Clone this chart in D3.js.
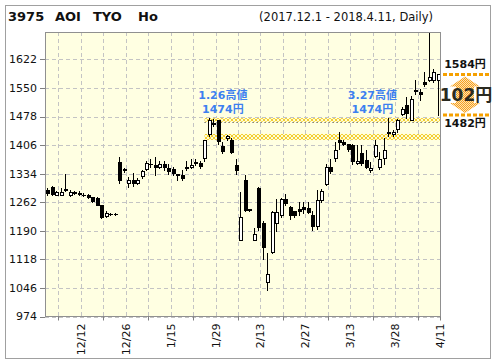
<!DOCTYPE html>
<html>
<head>
<meta charset="utf-8">
<script src="https://cdn.jsdelivr.net/npm/d3@7"></script>
<style>
body { margin: 0; background: #fff; }
text { font-family: Verdana, "DejaVu Sans", "Noto Sans CJK JP", sans-serif; }
</style>
</head>
<body>
<svg id="chart" width="496" height="364"></svg>
<script>
// Daily candles, 2017.12.1 - 2018.4.11
var dates = ["12/1","12/4","12/5","12/6","12/7","12/8","12/11","12/12","12/13","12/14",
  "12/15","12/18","12/19","12/20","12/21","12/22","12/25","12/26","12/27","12/28","12/29",
  "1/4","1/5","1/9","1/10","1/11","1/12","1/15","1/16","1/17","1/18","1/19","1/22","1/23",
  "1/24","1/25","1/26","1/29","1/30","1/31",
  "2/1","2/2","2/5","2/6","2/7","2/8","2/9","2/13","2/14","2/15","2/16","2/19","2/20",
  "2/21","2/22","2/23","2/26","2/27","2/28",
  "3/1","3/2","3/5","3/6","3/7","3/8","3/9","3/12","3/13","3/14","3/15","3/16","3/19",
  "3/20","3/22","3/23","3/26","3/27","3/28","3/29","3/30",
  "4/2","4/3","4/4","4/5","4/6","4/9","4/10","4/11"];

var open = [1292,1300,1281,1281,1293,1279,1286,1284,1281,1279,
  1274,1272,1254,1227,1233,1232,1363,1345,1311,1319,1310,
  1327,1346,1358,1356,1350,1359,1349,1346,1332,1331,1352,1352,1362,
  1360,1374,1433,1460,1468,1404,
  1425,1420,1355,1167,1317,1244,1167,1298,1209,1060,1136,1209,1229,
  1271,1251,1239,1245,1251,1247,
  1230,1201,1268,1309,1352,1374,1420,1415,1408,1405,1361,1386,1369,
  1342,1378,1350,1373,1437,1434,1447,1485,
  1508,1470,1543,1540,1565,1569,1569,1570];

var high = [1297,1302,1290,1299,1334,1294,1291,1290,1285,1282,
  1276,1274,1256,1239,1236,1235,1375,1349,1325,1336,1324,
  1343,1366,1372,1377,1365,1367,1359,1352,1334,1344,1367,1372,1370,
  1365,1420,1474,1472,1470,1413,
  1432,1425,1372,1289,1330,1246,1196,1300,1214,1133,1241,1269,1272,
  1282,1253,1241,1262,1262,1262,
  1239,1293,1296,1359,1372,1413,1439,1420,1409,1408,1405,1405,1394,
  1363,1419,1388,1425,1474,1445,1472,1503,
  1527,1529,1571,1548,1590,1698,1597,1584];

var low = [1280,1279,1279,1279,1290,1277,1283,1281,1278,1273,
  1263,1254,1221,1224,1229,1229,1310,1338,1300,1304,1307,
  1323,1342,1350,1331,1347,1342,1334,1331,1319,1317,1344,1347,1355,
  1347,1367,1430,1453,1409,1387,
  1419,1385,1334,1166,1239,1241,1166,1191,1120,1041,1135,1189,1224,
  1254,1220,1224,1229,1234,1234,
  1193,1195,1262,1306,1335,1367,1397,1405,1392,1359,1359,1355,1347,
  1339,1375,1346,1359,1430,1430,1440,1481,
  1475,1468,1534,1520,1556,1567,1564,1482];

var close = [1284,1282,1287,1287,1295,1287,1287,1283,1280,1275,
  1266,1256,1224,1234,1232,1233,1317,1342,1319,1310,1319,
  1340,1360,1359,1352,1359,1350,1340,1336,1331,1323,1349,1357,1363,
  1353,1418,1470,1462,1416,1392,
  1428,1388,1344,1226,1243,1243,1181,1199,1149,1082,1237,1237,1270,
  1260,1230,1229,1241,1244,1237,
  1203,1268,1290,1350,1340,1393,1413,1409,1397,1366,1367,1360,1352,
  1349,1405,1372,1393,1438,1439,1468,1497,
  1487,1523,1544,1534,1561,1577,1590,1584];

var yTicks = [974,1046,1118,1190,1262,1334,1406,1478,1550,1622];
var xLabels = ["12/12","12/26","1/15","1/29","2/13","2/27","3/13","3/28","4/11"];

// highlighted price zones (upper = 1474 high level)
var zoneUpper = [1474, 1465];
var zoneLower = [1434, 1419];
var highNotes = [{date: "1/26", label: "1.26高値", price: 1474, dx: 14},
                 {date: "3/27", label: "3.27高値", price: 1474, dx: -16}];
var rangeTop = 1584, rangeBottom = 1482;

var svg = d3.select("#chart");
var plotLeft = 45, plotRight = 440, plotTop = 32, plotBottom = 316.5;

var x = d3.scaleLinear().domain([0, dates.length]).range([plotLeft, plotRight]);
var y = d3.scaleLinear().domain([974, 1691]).range([plotBottom, plotTop]);

var defs = svg.append("defs");
defs.append("clipPath").attr("id", "plotClip")
  .append("rect").attr("x", plotLeft).attr("y", plotTop)
  .attr("width", plotRight - plotLeft).attr("height", plotBottom - plotTop);

// yellow hatch for the zones
var hatch = defs.append("pattern").attr("id", "hatch").attr("patternUnits", "userSpaceOnUse")
  .attr("width", 4).attr("height", 4);
hatch.append("rect").attr("width", 4).attr("height", 4).attr("fill", "#fffbd8");
hatch.append("path").attr("d", "M0,0L4,4M4,0L0,4").attr("stroke", "#f3d030").attr("stroke-width", 1);

var dots = defs.append("pattern").attr("id", "orangeDots").attr("patternUnits", "userSpaceOnUse")
  .attr("width", 2).attr("height", 2);
dots.append("rect").attr("width", 2).attr("height", 2).attr("fill", "#ffe2b0");
dots.append("rect").attr("width", 1).attr("height", 1).attr("fill", "#f5a020");
dots.append("rect").attr("x", 1).attr("y", 1).attr("width", 1).attr("height", 1).attr("fill", "#f5a020");

// outer frame
svg.append("rect")
  .attr("x", 5.5).attr("y", 5.5).attr("width", 485).attr("height", 353)
  .attr("fill", "#fff").attr("stroke", "#a0a0a0");

// title
var title = svg.append("text").attr("y", 21).attr("font-size", "13px").attr("font-weight", "bold").attr("fill", "#111");
title.append("tspan").attr("x", 8).text("3975");
title.append("tspan").attr("x", 55).text("AOI");
title.append("tspan").attr("x", 93).text("TYO");
title.append("tspan").attr("x", 138).text("Ho");

svg.append("text")
  .attr("x", 433).attr("y", 21)
  .attr("text-anchor", "end")
  .attr("font-size", "11.5px")
  .attr("fill", "#111")
  .text("(2017.12.1 - 2018.4.11, Daily)");

// plot background
svg.append("rect")
  .attr("x", plotLeft).attr("y", plotTop).attr("width", plotRight - plotLeft).attr("height", plotBottom - plotTop)
  .attr("fill", "#ffffe2");

// grid
var gridDays = d3.range(dates.length, 0, -5);
svg.append("g").selectAll("line").data(gridDays).enter().append("line")
  .attr("x1", function(d) { return Math.round(x(d)) + 0.5; })
  .attr("x2", function(d) { return Math.round(x(d)) + 0.5; })
  .attr("y1", plotTop).attr("y2", plotBottom)
  .attr("stroke", "#c4c4c4").attr("stroke-dasharray", "4,3");

svg.append("g").selectAll("line").data(yTicks).enter().append("line")
  .attr("x1", plotLeft).attr("x2", plotRight)
  .attr("y1", function(d) { return Math.round(y(d)) + 0.5; })
  .attr("y2", function(d) { return Math.round(y(d)) + 0.5; })
  .attr("stroke", "#c4c4c4").attr("stroke-dasharray", "4,3");

// zones
var zoneStart = x(dates.indexOf("1/26")) - 2;
[zoneUpper, zoneLower].forEach(function(z) {
  svg.append("rect")
    .attr("x", zoneStart).attr("y", y(z[0]))
    .attr("width", plotRight - zoneStart).attr("height", y(z[1]) - y(z[0]))
    .attr("fill", "url(#hatch)");
});
svg.append("line")
  .attr("x1", zoneStart).attr("x2", plotRight)
  .attr("y1", Math.round(y(zoneUpper[1])) + 0.5).attr("y2", Math.round(y(zoneUpper[1])) + 0.5)
  .attr("stroke", "#333").attr("stroke-dasharray", "1,3");

// candles
var candles = dates.map(function(d, i) {
  return {date: d, i: i, o: open[i], h: high[i], l: low[i], c: close[i]};
});
var plot = svg.append("g").attr("clip-path", "url(#plotClip)");

function cx(d) { return Math.round(x(d.i + 0.5)); }
function bodyH(d) { return Math.round(y(Math.min(d.o, d.c))) - Math.round(y(Math.max(d.o, d.c))); }

plot.selectAll(".wick").data(candles).enter().append("line")
  .attr("class", "wick")
  .attr("x1", function(d) { return cx(d) + 0.5; })
  .attr("x2", function(d) { return cx(d) + 0.5; })
  .attr("y1", function(d) { return Math.round(y(d.h)); })
  .attr("y2", function(d) { return Math.round(y(d.l)) + 1; })
  .attr("stroke", "#000");

plot.selectAll(".body").data(candles.filter(function(d) { return bodyH(d) >= 1; }))
  .enter().append("rect")
  .attr("class", "body")
  .attr("x", function(d) { return cx(d) - 0.5; })
  .attr("y", function(d) { return Math.round(y(Math.max(d.o, d.c))) + 0.5; })
  .attr("width", 3)
  .attr("height", bodyH)
  .attr("fill", function(d) { return d.c >= d.o ? "#fff" : "#000"; })
  .attr("stroke", "#000");

plot.selectAll(".doji").data(candles.filter(function(d) { return bodyH(d) < 1; }))
  .enter().append("line")
  .attr("class", "doji")
  .attr("x1", function(d) { return cx(d) - 1; })
  .attr("x2", function(d) { return cx(d) + 3; })
  .attr("y1", function(d) { return Math.round(y(d.c)) + 0.5; })
  .attr("y2", function(d) { return Math.round(y(d.c)) + 0.5; })
  .attr("stroke", "#000");

// plot border
svg.append("rect")
  .attr("x", plotLeft + 0.5).attr("y", plotTop + 0.5)
  .attr("width", plotRight - plotLeft).attr("height", plotBottom - plotTop - 0.5)
  .attr("fill", "none").attr("stroke", "#909090");

// y axis labels and ticks
svg.append("g").selectAll("line").data(yTicks).enter().append("line")
  .attr("x1", plotLeft - 5).attr("x2", plotLeft)
  .attr("y1", function(d) { return Math.round(y(d)) + 0.5; })
  .attr("y2", function(d) { return Math.round(y(d)) + 0.5; })
  .attr("stroke", "#808080");
svg.append("g").selectAll("text").data(yTicks).enter().append("text")
  .attr("x", 37).attr("y", function(d) { return y(d); })
  .attr("dy", "0.36em").attr("text-anchor", "end")
  .attr("font-size", "11px").attr("fill", "#111")
  .text(function(d) { return d; });

// x ticks (between labels) and labels
var tickDays = gridDays.filter(function(d, k) { return k % 2 === 1; }).concat([dates.length]);
svg.append("g").selectAll("line").data(tickDays).enter().append("line")
  .attr("x1", function(d) { return Math.round(x(d)) + 0.5; })
  .attr("x2", function(d) { return Math.round(x(d)) + 0.5; })
  .attr("y1", plotBottom).attr("y2", plotBottom + 4)
  .attr("stroke", "#808080");
svg.append("g").selectAll("text").data(xLabels).enter().append("text")
  .attr("transform", function(d) {
    return "translate(" + x(dates.indexOf(d) + 1) + "," + (plotBottom + 7) + ") rotate(-90)";
  })
  .attr("dy", "0.36em").attr("text-anchor", "end")
  .attr("font-size", "11px").attr("fill", "#111")
  .text(function(d) { return d; });

// high annotations
highNotes.forEach(function(n) {
  var tx = x(dates.indexOf(n.date) + 0.5) + n.dx;
  svg.append("text").attr("x", tx).attr("y", y(n.price) - 19)
    .attr("text-anchor", "middle").attr("font-size", "11px").attr("font-weight", "bold")
    .attr("fill", "#3d7ff0").text(n.label);
  svg.append("text").attr("x", tx).attr("y", y(n.price) - 5)
    .attr("text-anchor", "middle").attr("font-size", "11px").attr("font-weight", "bold")
    .attr("fill", "#3d7ff0").text(n.price + "円");
});

// range annotation on the right
var ax = 465, yT = y(rangeTop), yB = y(rangeBottom);
svg.append("path")
  .attr("d", "M" + ax + "," + (yT + 2) + "L" + (ax + 15) + "," + (yT + 12) + "L" + (ax + 9) + "," + (yT + 12) +
    "L" + (ax + 9) + "," + (yB - 12) + "L" + (ax + 15) + "," + (yB - 12) + "L" + ax + "," + (yB - 2) +
    "L" + (ax - 15) + "," + (yB - 12) + "L" + (ax - 9) + "," + (yB - 12) + "L" + (ax - 9) + "," + (yT + 12) +
    "L" + (ax - 15) + "," + (yT + 12) + "Z")
  .attr("fill", "url(#orangeDots)");
[yT, yB].forEach(function(v) {
  svg.append("line").attr("x1", 443).attr("x2", 489).attr("y1", v).attr("y2", v)
    .attr("stroke", "#f5a000").attr("stroke-width", 3).attr("stroke-dasharray", "4,2");
});
svg.append("text").attr("x", 465).attr("y", yT - 6).attr("text-anchor", "middle")
  .attr("font-size", "11px").attr("font-weight", "bold").attr("fill", "#111").text(rangeTop + "円");
svg.append("text").attr("x", 465).attr("y", yB + 12.5).attr("text-anchor", "middle")
  .attr("font-size", "11px").attr("font-weight", "bold").attr("fill", "#111").text(rangeBottom + "円");
svg.append("text").attr("x", 466).attr("y", (yT + yB) / 2 + 6.5).attr("text-anchor", "middle")
  .attr("font-size", "17px").attr("font-weight", "bold").attr("fill", "#2a2a20")
  .text((rangeTop - rangeBottom) + "円");
</script>
</body>
</html>
